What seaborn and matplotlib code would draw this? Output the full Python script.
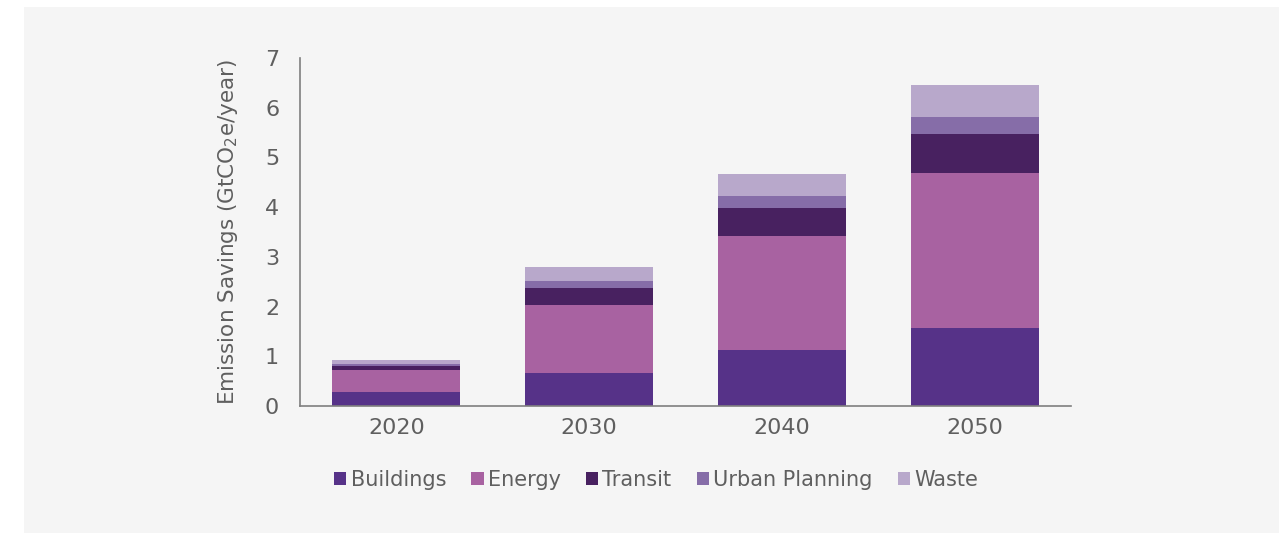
import matplotlib
matplotlib.use("Agg")
import matplotlib.pyplot as plt
from matplotlib.patches import Patch, Rectangle
import numpy as np
import pandas as pd
import seaborn as sns

years = ["2020", "2030", "2040", "2050"]
sectors = ["Buildings", "Energy", "Transit", "Urban Planning", "Waste"]
buildings = [0.29, 0.67, 1.12, 1.56]
energy = [0.43, 1.37, 2.29, 3.13]
transit = [0.09, 0.34, 0.57, 0.78]
urban_planning = [0.035, 0.14, 0.24, 0.34]
waste = [0.075, 0.27, 0.45, 0.64]
colors = ["#563288", "#A862A1", "#482160", "#866DA8", "#B8A8CB"]

sns.set_theme(style="white")
plt.rcParams["font.family"] = ["DejaVu Sans"]
text_color = "#5f5f5f"

series = [buildings, energy, transit, urban_planning, waste]
cum = np.cumsum(np.array(series), axis=0)

fig = plt.figure(figsize=(12.88, 5.33), dpi=100)
fig.patch.set_facecolor("white")
fig.patches.append(Rectangle((24 / 1288, 0), (1279 - 24) / 1288, 1 - 7 / 533,
                             transform=fig.transFigure, facecolor="#F5F5F5",
                             edgecolor="none", zorder=-10))
ax = fig.add_axes([300 / 1288, 1 - 406 / 533, (1071 - 300) / 1288, (406 - 58) / 533])
ax.set_facecolor("#F5F5F5")

for i in range(len(sectors) - 1, -1, -1):
    df = pd.DataFrame({"year": years, "value": cum[i]})
    sns.barplot(data=df, x="year", y="value", color=colors[i], width=0.665,
                saturation=1, ax=ax, edgecolor="none", linewidth=0)

ax.set_xlim(-0.5, 3.5)
ax.set_ylim(0, 7)
ax.set_yticks(range(0, 8))
ax.set_xlabel("")
ax.set_ylabel("Emission Savings (GtCO$_2$e/year)", fontsize=15.5, color=text_color, labelpad=18)
ax.tick_params(axis="both", labelsize=16, colors=text_color, length=0)
ax.tick_params(axis="y", pad=15)
ax.tick_params(axis="x", pad=9)
for s in ["top", "right"]:
    ax.spines[s].set_visible(False)
for s in ["left", "bottom"]:
    ax.spines[s].set_color("#7f7f7f")
    ax.spines[s].set_linewidth(1.2)

handles = [Patch(facecolor=c, edgecolor="none") for c in colors]
fig.legend(handles, sectors, loc="center", bbox_to_anchor=(656 / 1288, 1 - 480 / 533),
           ncol=5, frameon=False, fontsize=15, labelcolor=text_color,
           handlelength=0.6, handleheight=0.6, handletextpad=0.2, columnspacing=1.2)

fig.savefig("out.png", dpi=100, facecolor="white")
